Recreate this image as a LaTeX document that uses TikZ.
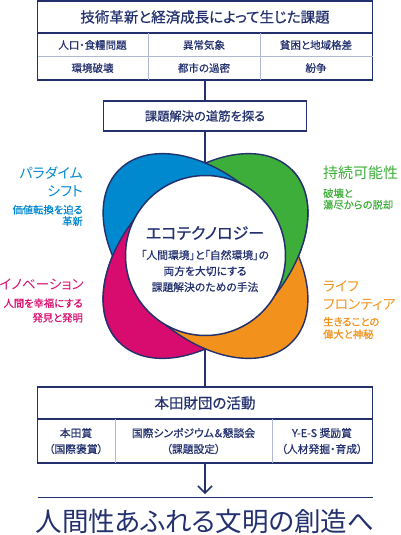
\documentclass[tikz,border=0pt]{standalone}
\usepackage{fontspec}
\setmainfont{Noto Sans CJK JP}[RawFeature=+palt]
\newfontfamily\jpb{Noto Sans CJK JP}[RawFeature=+palt, FakeBold=0.6]
\usetikzlibrary{arrows.meta}
\definecolor{navy}{RGB}{35,48,110}
\definecolor{lightdiv}{RGB}{175,185,210}
\definecolor{cblue}{RGB}{0,137,207}
\definecolor{cgreen}{RGB}{62,174,58}
\definecolor{cmag}{RGB}{216,12,110}
\definecolor{corange}{RGB}{242,146,28}
\newcommand\fs[2]{\fontsize{#1}{#2}\selectfont}
\begin{document}
\begin{tikzpicture}[x=1pt,y=-1pt,
  boxframe/.style={draw=navy, line width=1.5pt, fill=white, inner sep=0pt},
  txt/.style={text=navy, inner sep=0pt},
  link/.style={draw=navy, line width=1.5pt},
  divdark/.style={draw=navy, line width=1.5pt},
  divlight/.style={draw=lightdiv, line width=1pt},
  petal/.style={draw=navy, line width=1.4pt},
  EA/.style={rotate around={-45:(205.5,256)}},
  EB/.style={rotate around={45:(205.5,256)}},
]
\useasboundingbox (0,0) rectangle (400,535);

% ---------- top box ----------
\node[boxframe, minimum width=335pt, minimum height=79pt] (b1) at (205,40.5) {};
\draw[divdark] (37.5,33) -- (372.5,33);
\draw[divlight] (37.5,56.5) -- (372.5,56.5);
\draw[divlight] (148,33) -- (148,80);
\draw[divlight] (260,33) -- (260,80);
\node[txt, font=\jpb\fs{14.5}{16}] (t1) at (205,17) {技術革新と経済成長によって生じた課題};
\node[txt, font=\jpb\fs{10.5}{12}] (c11) at (92.5,45) {人口・食糧問題};
\node[txt, font=\jpb\fs{10.5}{12}] (c12) at (204,45) {異常気象};
\node[txt, font=\jpb\fs{10.5}{12}] (c13) at (316,45) {貧困と地域格差};
\node[txt, font=\jpb\fs{10.5}{12}] (c21) at (92.5,68) {環境破壊};
\node[txt, font=\jpb\fs{10.5}{12}] (c22) at (204,68) {都市の過密};
\node[txt, font=\jpb\fs{10.5}{12}] (c23) at (316,68) {紛争};

% ---------- second box ----------
\node[boxframe, minimum width=203pt, minimum height=30pt, text=navy, font=\jpb\fs{12.3}{14}] (b2) at (205,116) {課題解決の道筋を探る};
\draw[link] (b1.south) -- (b2.north);

% ---------- third box ----------
\node[boxframe, minimum width=335pt, minimum height=76pt] (b3) at (205,425) {};
\draw[divdark] (37.5,419) -- (372.5,419);
\draw[divlight] (115,419) -- (115,463);
\draw[divlight] (272,419) -- (272,463);
\node[txt, font=\jpb\fs{14.5}{16}] (t3) at (205,403) {本田財団の活動};
\node[txt, font=\jpb\fs{10.8}{12}] (d11) at (76,433) {本田賞};
\node[txt, font=\jpb\fs{10.8}{12}] (d12) at (193.5,433) {国際シンポジウム＆懇談会};
\node[txt, font=\jpb\fs{10.8}{12}] (d13) at (322,433) {Y-E-S 奨励賞};
\node[txt, font=\jpb\fs{10.8}{12}] (d21) at (76,449) {（国際褒賞）};
\node[txt, font=\jpb\fs{10.8}{12}] (d22) at (193.5,449) {（課題設定）};
\node[txt, font=\jpb\fs{10.8}{12}] (d23) at (322,449) {（人材発掘・育成）};

% connectors through the flower
\coordinate (ftop) at (205,170);
\coordinate (fbot) at (205,342);
\draw[link] (b2.south) -- (ftop);
\draw[link] (fbot) -- (b3.north);

% ---------- flower ----------
\begin{scope}
  \clip (-44.5,6) -- (455.5,506) -- (455.5,6) -- cycle;
  \fill[cgreen, EB] (205.5,256) ellipse [x radius=122pt, y radius=78pt];
\end{scope}
\begin{scope}
  \clip (-44.5,6) -- (455.5,506) -- (-44.5,506) -- cycle;
  \fill[cmag, EB] (205.5,256) ellipse [x radius=122pt, y radius=78pt];
\end{scope}
\path[petal, EB] (205.5,256) ellipse [x radius=122pt, y radius=78pt];
\begin{scope}
  \clip (-44.5,506) -- (455.5,6) -- (-44.5,6) -- cycle;
  \fill[cblue, EA] (205.5,256) ellipse [x radius=122pt, y radius=78pt];
\end{scope}
\begin{scope}
  \clip (-44.5,506) -- (455.5,6) -- (455.5,506) -- cycle;
  \fill[corange, EA] (205.5,256) ellipse [x radius=122pt, y radius=78pt];
\end{scope}
\path[petal, EA] (205.5,256) ellipse [x radius=122pt, y radius=78pt];
\begin{scope}
  \clip (205.5,256) -- (-44.5,6) -- (-44.5,506) -- cycle;
  \path[petal, fill=cmag, EB] (205.5,256) ellipse [x radius=122pt, y radius=78pt];
\end{scope}
\begin{scope}
  \clip (205.5,256) -- (455.5,6) -- (455.5,506) -- cycle;
  \path[petal, fill=cgreen, EB] (205.5,256) ellipse [x radius=122pt, y radius=78pt];
\end{scope}

% centre circle
\node[circle, draw=navy, line width=1.5pt, fill=white, minimum size=160pt, inner sep=0pt] (eco) at (205.5,255.5) {};
\node[txt, font=\jpb\fs{16}{18}] (ecot) at (205,233) {エコテクノロジー};
\node[txt, font=\jpb\fs{10.8}{16}, align=center] (ecod) at (205,271) {「人間環境」と「自然環境」の\\両方を大切にする\\課題解決のための手法};

% side labels
\node[inner sep=0pt, text=cblue, font=\fs{14}{17.5}, align=right, anchor=east] (lb1) at (83,182) {パラダイム\\シフト};
\node[inner sep=0pt, text=cblue, font=\jpb\fs{10.3}{11.5}, align=right, anchor=east] (lb2) at (83,215.5) {価値転換を迫る\\革新};
\node[inner sep=0pt, text=cgreen, font=\fs{15}{17.5}, anchor=west] (lg1) at (323,173) {持続可能性};
\node[inner sep=0pt, text=cgreen, font=\jpb\fs{10.3}{11.5}, align=left, anchor=west] (lg2) at (323,199) {破壊と\\蕩尽からの脱却};
\node[inner sep=0pt, text=cmag, font=\fs{13.6}{17.5}, anchor=east] (lm1) at (84,285) {イノベーション};
\node[inner sep=0pt, text=cmag, font=\jpb\fs{10.3}{14.5}, align=right, anchor=east] (lm2) at (83,310.5) {人間を幸福にする\\発見と発明};
\node[inner sep=0pt, text=corange, font=\fs{13.8}{17.3}, align=left, anchor=west] (lo1) at (323,295.5) {ライフ\\フロンティア};
\node[inner sep=0pt, text=corange, font=\jpb\fs{10.3}{12.5}, align=left, anchor=west] (lo2) at (323,328) {生きることの\\偉大と神秘};

% final arrow and goal
\coordinate (aend) at (205,494);
\draw[link, -{Straight Barb[length=7pt,width=14pt]}] (b3.south) -- (aend);
\draw[draw=navy, line width=1.2pt] (37.5,497.5) -- (372.5,497.5);
\node[txt, font=\fs{26.5}{30}] (goal) at (205,522) {人間性あふれる文明の創造へ};
\end{tikzpicture}
\end{document}
